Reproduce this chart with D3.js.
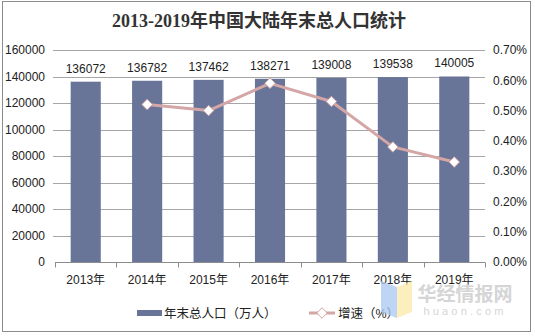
<!DOCTYPE html>
<html>
<head>
<meta charset="utf-8">
<script src="https://cdn.jsdelivr.net/npm/d3@7"></script>
<style>
  html, body { margin: 0; padding: 0; background: #fff; }
  svg { display: block; }
</style>
</head>
<body>
<svg id="chart" width="535" height="336"></svg>
<script>
// Year-end population of mainland China (10k persons) and year-on-year growth (%)
const years = ["2013年", "2014年", "2015年", "2016年", "2017年", "2018年", "2019年"];
const population = [136072, 136782, 137462, 138271, 139008, 139538, 140005];
const growth = [null, 0.52, 0.50, 0.59, 0.53, 0.38, 0.33];
const leftTicks = [0, 20000, 40000, 60000, 80000, 100000, 120000, 140000, 160000];
const rightTicks = [0, 0.1, 0.2, 0.3, 0.4, 0.5, 0.6, 0.7];

const svg = d3.select("#chart");
const latin = "'Liberation Sans', Arial, 'Noto Sans CJK SC', sans-serif";
const cjk = "'Liberation Sans', 'Noto Sans CJK SC', sans-serif";

const plot = { left: 55, right: 485, top: 50, bottom: 262 };

const x = d3.scaleBand().domain(years).range([plot.left, plot.right]).paddingInner(0.51).paddingOuter(0.255);
const band = d3.scaleBand().domain(years).range([plot.left, plot.right]);
const yL = d3.scaleLinear().domain([0, 160000]).range([plot.bottom, plot.top]);
const yR = d3.scaleLinear().domain([0, 0.7]).range([plot.bottom, plot.top]);

// outer frame
svg.append("rect").attr("x", 2.5).attr("y", 1.5).attr("width", 528).attr("height", 330)
  .attr("fill", "#fff").attr("stroke", "#8c8c8c").attr("stroke-width", 1);

// title
svg.append("text").attr("x", 259).attr("y", 27).attr("text-anchor", "middle")
  .attr("font-family", "'Liberation Serif', 'Noto Sans CJK SC', serif")
  .attr("font-weight", "bold").attr("font-size", 18).attr("fill", "#333")
  .text("2013-2019年中国大陆年末总人口统计");

// horizontal grid lines from the left axis
svg.append("g").selectAll("line").data(leftTicks.slice(1)).join("line")
  .attr("x1", plot.left - 2).attr("x2", plot.right)
  .attr("y1", d => Math.round(yL(d)) + 0.5).attr("y2", d => Math.round(yL(d)) + 0.5)
  .attr("stroke", "#a6a6a6").attr("stroke-width", 1);

// left axis labels
const leftAxis = d3.axisLeft(yL).tickValues(leftTicks).tickSize(0).tickPadding(10).tickFormat(d3.format("d"));
const gL = svg.append("g").attr("transform", `translate(${plot.left},0)`).call(leftAxis);
gL.select(".domain").remove();
gL.selectAll("text").attr("font-family", latin).attr("font-size", 12).attr("fill", "#222");

// right axis labels
const rightAxis = d3.axisRight(yR).tickValues(rightTicks).tickSize(0).tickPadding(8)
  .tickFormat(d => d.toFixed(2) + "%");
const gR = svg.append("g").attr("transform", `translate(${plot.right},0)`).call(rightAxis);
gR.select(".domain").remove();
gR.selectAll("text").attr("font-family", latin).attr("font-size", 12).attr("fill", "#222");

// bars
svg.append("g").selectAll("rect").data(years).join("rect")
  .attr("x", (d) => x(d)).attr("width", x.bandwidth())
  .attr("y", (d, i) => yL(population[i])).attr("height", (d, i) => plot.bottom - yL(population[i]))
  .attr("fill", "#687498");

// bar value labels
svg.append("g").selectAll("text").data(years).join("text")
  .attr("x", d => x(d) + x.bandwidth() / 2).attr("y", (d, i) => yL(population[i]) - 9)
  .attr("text-anchor", "middle").attr("font-family", latin).attr("font-size", 12).attr("fill", "#222")
  .text((d, i) => population[i]);

// category axis with boundary ticks
const gX = svg.append("g").attr("transform", `translate(0,${plot.bottom + 0.5})`);
gX.append("line").attr("x1", plot.left).attr("x2", plot.right).attr("stroke", "#8c8c8c");
gX.selectAll("line.tk").data(d3.range(years.length + 1)).join("line").attr("class", "tk")
  .attr("x1", i => Math.round(plot.left + i * band.bandwidth()) + 0.5)
  .attr("x2", i => Math.round(plot.left + i * band.bandwidth()) + 0.5)
  .attr("y1", 0).attr("y2", 5).attr("stroke", "#8c8c8c");
gX.selectAll("text").data(years).join("text")
  .attr("x", d => band(d) + band.bandwidth() / 2).attr("y", 21)
  .attr("text-anchor", "middle").attr("font-family", cjk).attr("font-size", 12).attr("fill", "#222")
  .text(d => d);

// growth line
const pts = years.map((d, i) => ({ year: d, v: growth[i] })).filter(p => p.v !== null);
const line = d3.line().x(p => band(p.year) + band.bandwidth() / 2).y(p => yR(p.v));
svg.append("path").datum(pts).attr("d", line).attr("fill", "none")
  .attr("stroke", "#d4a6a6").attr("stroke-width", 3).attr("stroke-linejoin", "round");

const diamond = d3.symbol().type(d3.symbolDiamond2).size(70);
svg.append("g").selectAll("path").data(pts).join("path")
  .attr("d", diamond)
  .attr("transform", p => `translate(${band(p.year) + band.bandwidth() / 2},${yR(p.v)})`)
  .attr("fill", "#fff").attr("stroke", "#d4a6a6").attr("stroke-width", 1);

// legend
const lg = svg.append("g").attr("transform", "translate(0,313)");
lg.append("rect").attr("x", 137).attr("y", -3).attr("width", 25).attr("height", 6).attr("fill", "#687498");
lg.append("text").attr("x", 164).attr("y", 5).attr("font-family", cjk).attr("font-size", 12.5)
  .attr("fill", "#222").text("年末总人口（万人）");
lg.append("line").attr("x1", 309).attr("x2", 335).attr("y1", 0).attr("y2", 0)
  .attr("stroke", "#d4a6a6").attr("stroke-width", 3);
lg.append("path").attr("d", diamond).attr("transform", "translate(322,0)")
  .attr("fill", "#fff").attr("stroke", "#d4a6a6").attr("stroke-width", 1);
lg.append("text").attr("x", 338).attr("y", 5).attr("font-family", cjk).attr("font-size", 12.5)
  .attr("fill", "#222").text("增速（%）");

// site watermark
const wm = svg.append("g").attr("opacity", 0.75);
wm.append("polygon").attr("points", "381,281 397,287 397,318 381,312").attr("fill", "#a9c8f2");
wm.append("polygon").attr("points", "397,287 412,281 412,312 397,318").attr("fill", "#fbeaa8");
wm.append("text").attr("x", 465).attr("y", 301).attr("text-anchor", "middle")
  .attr("font-family", "'Noto Sans CJK SC', sans-serif").attr("font-weight", "bold")
  .attr("font-size", 19).attr("fill", "#c8c8c8").text("华经情报网");
wm.append("text").attr("x", 465).attr("y", 315).attr("text-anchor", "middle")
  .attr("font-family", latin).attr("font-size", 11).attr("letter-spacing", 3.2)
  .attr("fill", "#c8c8c8").text("huaon.com");
</script>
</body>
</html>
